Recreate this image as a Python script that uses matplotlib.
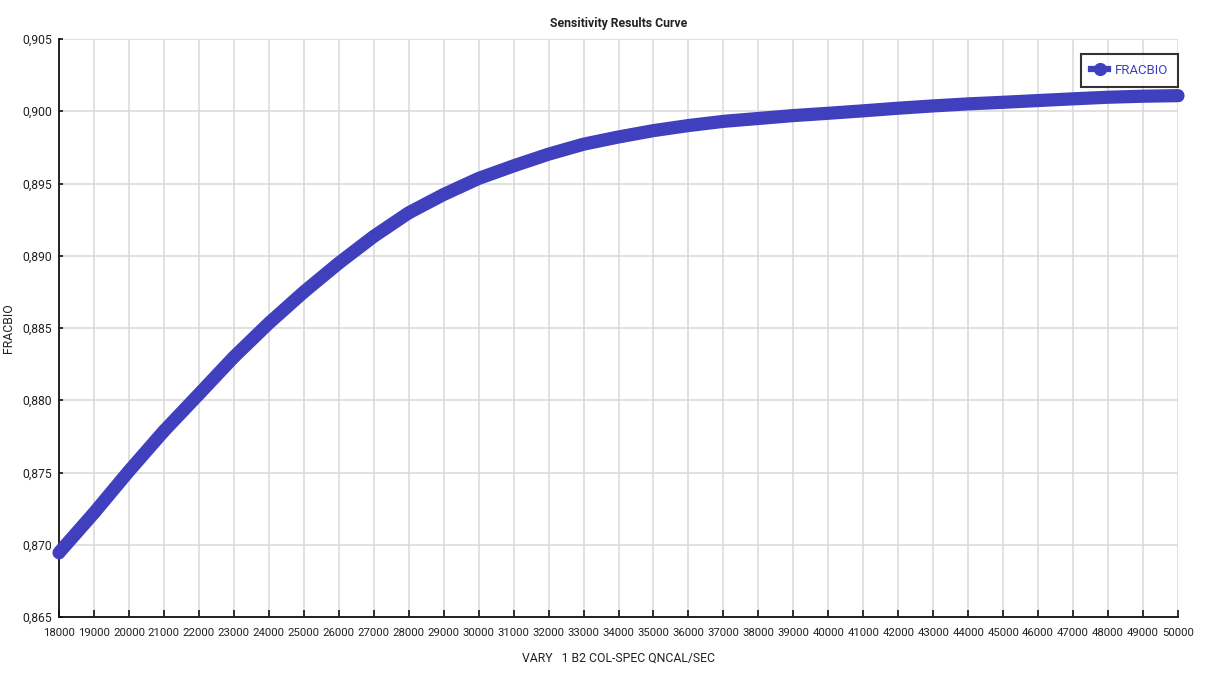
import matplotlib
matplotlib.use("Agg")
import matplotlib.pyplot as plt
from matplotlib.lines import Line2D
from matplotlib.ticker import FuncFormatter, MultipleLocator

# ---- data ----
qncal = [18000, 19000, 20000, 21000, 22000, 23000, 24000, 25000, 26000,
         27000, 28000, 29000, 30000, 31000, 32000, 33000, 34000, 35000,
         36000, 37000, 38000, 39000, 40000, 41000, 42000, 43000, 44000,
         45000, 46000, 47000, 48000, 49000, 50000]
fracbio = [0.86945, 0.87220, 0.87510, 0.87787, 0.88042, 0.88299, 0.88533,
           0.88749, 0.88949, 0.89134, 0.89297, 0.89424, 0.89535, 0.89622,
           0.89703, 0.89772, 0.89822, 0.89866, 0.89901, 0.89930, 0.89950,
           0.89970, 0.89986, 0.90003, 0.90021, 0.90037, 0.90051, 0.90062,
           0.90074, 0.90086, 0.90097, 0.90104, 0.90108]
x_ticks = list(range(18000, 50001, 1000))
series_name = "FRACBIO"
title = "Sensitivity Results Curve"
xlabel = "VARY   1 B2 COL-SPEC QNCAL/SEC"
ylabel = "FRACBIO"

BLUE = "#4040BF"
TXT = "#222222"
plt.rcParams['font.family'] = ['Roboto', 'DejaVu Sans']

W, H = 1205, 673
fig = plt.figure(figsize=(W / 100, H / 100), dpi=100)
L, R, T, B = 59, 1178, 39, 617
ax = fig.add_axes([L / W, 1 - B / H, (R - L) / W, (B - T) / H])

ax.plot(qncal, fracbio, color=BLUE, lw=9.5, solid_capstyle='round',
        solid_joinstyle='round', marker='o', ms=8, mew=0, mfc=BLUE,
        clip_on=False, zorder=3)

ax.set_xlim(18000, 50000)
ax.set_ylim(0.865, 0.905)
ax.set_xticks(x_ticks)
ax.yaxis.set_major_locator(MultipleLocator(0.005))
ax.yaxis.set_major_formatter(FuncFormatter(lambda v, p: f"{v:.3f}".replace('.', ',')))
ax.grid(True, color='#d9d9d9', lw=1.1, zorder=0)
ax.set_axisbelow(True)

for s in ['top', 'right']:
    ax.spines[s].set_visible(False)
for s in ['left', 'bottom']:
    ax.spines[s].set_color('#111111')
    ax.spines[s].set_linewidth(1.3)

ax.tick_params(axis='x', direction='in', length=5, width=1.2, colors='#111111',
               labelcolor=TXT, labelsize=8.2, pad=8)
ax.tick_params(axis='y', direction='in', length=3, width=1.2, colors='#111111',
               labelcolor=TXT, labelsize=8.8, pad=5)

ax.set_title(title, fontsize=8.8, fontweight='bold', color=TXT, pad=9)
ax.set_xlabel(xlabel, fontsize=8.8, color=TXT, labelpad=10)
ax.set_ylabel(ylabel, fontsize=8.8, color=TXT)
ax.yaxis.set_label_coords((15 - L) / (R - L), 0.5)

handle = Line2D([0], [0], color=BLUE, lw=4.5, marker='o', ms=8.5)
leg = ax.legend([handle], [series_name], loc='upper right',
                bbox_to_anchor=(1.0, 1 - 15 / (B - T)), frameon=True, fancybox=False,
                fontsize=9.5, handlelength=1.3, handletextpad=0.5,
                borderpad=0.75, borderaxespad=0, labelcolor=BLUE)
leg.get_frame().set_edgecolor('black')
leg.get_frame().set_linewidth(1.5)

fig.savefig("out.png", dpi=100)
